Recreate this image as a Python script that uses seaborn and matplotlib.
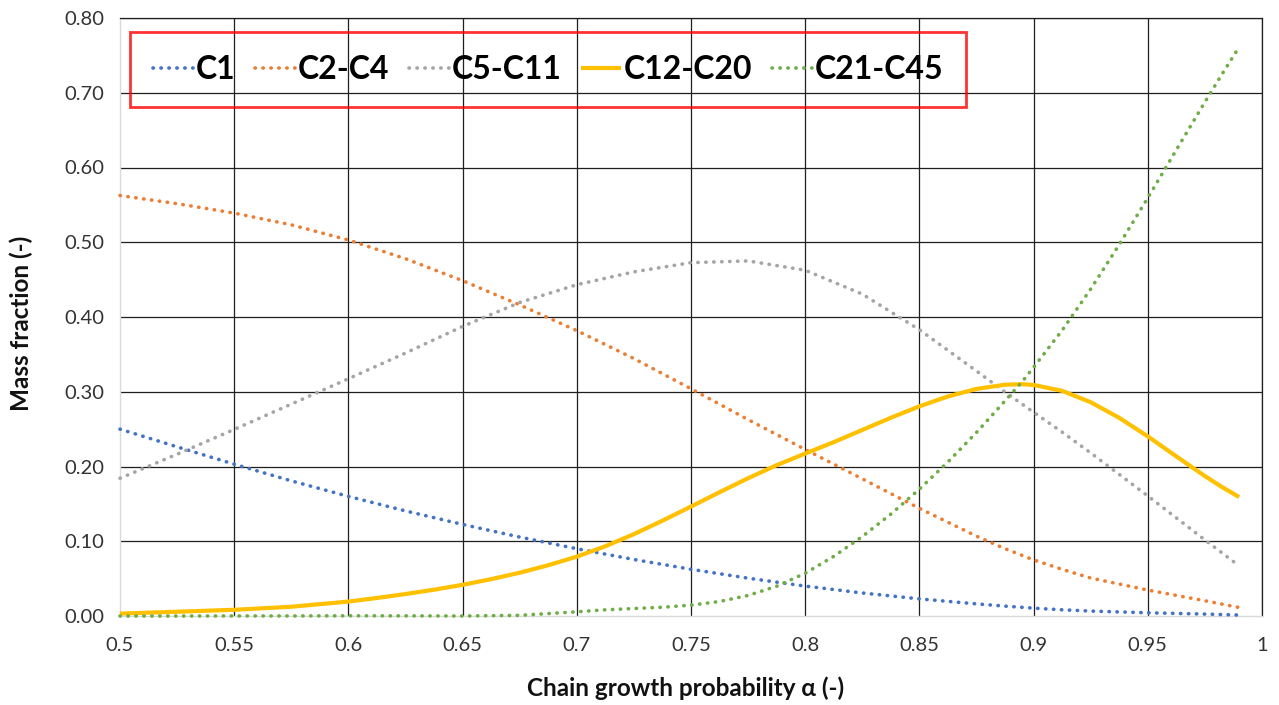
import matplotlib
matplotlib.use("Agg")
import matplotlib.pyplot as plt
import pandas as pd
import seaborn as sns

# Chain growth probability (x) and mass fraction of each carbon-number cut
alpha = [0.5, 0.525, 0.55, 0.575, 0.6, 0.625, 0.65, 0.675, 0.7, 0.725, 0.75, 0.775,
         0.8, 0.825, 0.85, 0.875, 0.8875, 0.9, 0.9125, 0.925, 0.95, 0.975, 0.99]

c1 = [0.2500, 0.2263, 0.2031, 0.1808, 0.1600, 0.1406, 0.1225, 0.1056, 0.0900, 0.0756,
      0.0625, 0.0506, 0.0400, 0.0308, 0.0229, 0.0162, 0.0132, 0.0105, 0.0083, 0.0066,
      0.0043, 0.0026, 0.0013]
c2_c4 = [0.5625, 0.5516, 0.5390, 0.5233, 0.5030, 0.4780, 0.4486, 0.4162, 0.3818, 0.3444,
         0.3040, 0.2627, 0.2228, 0.1835, 0.1440, 0.1068, 0.0900, 0.0751, 0.0624, 0.0508,
         0.0347, 0.0204, 0.0114]
c5_c11 = [0.1843, 0.2164, 0.2496, 0.2835, 0.3174, 0.3518, 0.3874, 0.4194, 0.4432, 0.4604,
          0.4727, 0.4750, 0.4626, 0.4306, 0.3830, 0.3277, 0.2996, 0.2726, 0.2460, 0.2182,
          0.1606, 0.1018, 0.0670]

# The two heavier cuts are read on a finer alpha grid where they bend sharply
alpha_c12_c20 = [0.5, 0.525, 0.55, 0.575, 0.6, 0.6125, 0.625, 0.6375, 0.65, 0.6625,
                 0.675, 0.6875, 0.7, 0.7125, 0.725, 0.7375, 0.75, 0.7625, 0.775, 0.7875,
                 0.8, 0.8125, 0.825, 0.8375, 0.85, 0.8625, 0.875, 0.8875, 0.895, 0.9,
                 0.9125, 0.925, 0.9375, 0.95, 0.9625, 0.975, 0.9825, 0.99]
c12_c20 = [0.0032, 0.0057, 0.0083, 0.0124, 0.0193, 0.0241, 0.0294, 0.0352, 0.0417, 0.0493,
           0.0579, 0.0679, 0.0794, 0.0933, 0.1095, 0.1275, 0.1464, 0.1656, 0.1843, 0.2018,
           0.2173, 0.2326, 0.2489, 0.2652, 0.2805, 0.2937, 0.3038, 0.3094, 0.3101, 0.3091,
           0.3012, 0.2860, 0.2651, 0.2403, 0.2135, 0.1872, 0.1725, 0.1591]

alpha_c21_c45 = [0.5, 0.525, 0.55, 0.575, 0.6, 0.625, 0.65, 0.675, 0.7, 0.7125,
                 0.725, 0.7375, 0.75, 0.7625, 0.775, 0.7875, 0.8, 0.8125, 0.825, 0.8375,
                 0.85, 0.8625, 0.875, 0.8875, 0.895, 0.9, 0.9125, 0.925, 0.9375, 0.95,
                 0.9625, 0.975, 0.9825, 0.99]
c21_c45 = [0.0000, 0.0000, 0.0001, 0.0001, 0.0003, 0.0002, 0.0000, 0.0009, 0.0056, 0.0083,
           0.0100, 0.0117, 0.0145, 0.0194, 0.0275, 0.0398, 0.0572, 0.0798, 0.1063, 0.1363,
           0.1697, 0.2061, 0.2456, 0.2878, 0.3135, 0.3327, 0.3822, 0.4374, 0.4969, 0.5594,
           0.6236, 0.6875, 0.7249, 0.7612]

series_names = ["C1", "C2-C4", "C5-C11", "C12-C20", "C21-C45"]
series_x = [alpha, alpha, alpha, alpha_c12_c20, alpha_c21_c45]
series_values = [c1, c2_c4, c5_c11, c12_c20, c21_c45]
series_colors = ["#4472C4", "#ED7D31", "#A5A5A5", "#FFC000", "#70AD47"]
series_solid = [False, False, False, True, False]

x_ticks = [0.5, 0.55, 0.6, 0.65, 0.7, 0.75, 0.8, 0.85, 0.9, 0.95, 1.0]
x_tick_labels = ["0.5", "0.55", "0.6", "0.65", "0.7", "0.75", "0.8", "0.85", "0.9", "0.95", "1"]
y_ticks = [0.0, 0.1, 0.2, 0.3, 0.4, 0.5, 0.6, 0.7, 0.8]
y_tick_labels = ["0.00", "0.10", "0.20", "0.30", "0.40", "0.50", "0.60", "0.70", "0.80"]

sns.set_theme(style="white")
plt.rcParams["font.family"] = ["Lato", "DejaVu Sans"]

W, H = 1279, 705
fig = plt.figure(figsize=(W / 100, H / 100), dpi=100)
ax = fig.add_axes([120 / W, (H - 616) / H, 1142 / W, 598 / H])

dot_style = (0, (0.1, 2.1))
for name, xs, vals, color, solid in zip(series_names, series_x, series_values,
                                         series_colors, series_solid):
    df = pd.DataFrame({"alpha": xs, "fraction": vals})
    if solid:
        sns.lineplot(data=df, x="alpha", y="fraction", ax=ax, color=color, lw=3.0,
                     solid_capstyle="butt", solid_joinstyle="round", label=name,
                     clip_on=False, zorder=3)
    else:
        sns.lineplot(data=df, x="alpha", y="fraction", ax=ax, color=color, lw=2.6,
                     linestyle=dot_style, dash_capstyle="round", label=name,
                     clip_on=False, zorder=3)

ax.set_xlim(0.5, 1.0)
ax.set_ylim(0.0, 0.8)
ax.set_xticks(x_ticks)
ax.set_xticklabels(x_tick_labels)
ax.set_yticks(y_ticks)
ax.set_yticklabels(y_tick_labels)
ax.tick_params(axis="both", length=0, labelsize=14.5, colors="#333333")
ax.tick_params(axis="x", pad=15)
ax.tick_params(axis="y", pad=11)

ax.set_axisbelow(True)
ax.grid(True, color="#1f1f1f", lw=0.9)
ax.xaxis.get_gridlines()[0].set_visible(False)
ax.yaxis.get_gridlines()[0].set_visible(False)
for side in ("left", "bottom"):
    ax.spines[side].set_color("#D9D9D9")
    ax.spines[side].set_linewidth(1.0)
for side in ("top", "right"):
    ax.spines[side].set_color("#1f1f1f")
    ax.spines[side].set_linewidth(0.9)

ax.set_xlabel("Chain growth probability α (-)", fontsize=17.5, fontweight="bold", color="#111111")
ax.set_ylabel("Mass fraction (-)", fontsize=17.5, fontweight="bold", color="#111111")
ax.xaxis.label.set_va("center")
ax.yaxis.label.set_va("center")
ax.xaxis.set_label_coords(0.495, -0.12)
ax.yaxis.set_label_coords(-0.086, 0.49)

handles, labels = ax.get_legend_handles_labels()
leg = ax.legend(handles, labels, loc="upper left", bbox_to_anchor=(0.0088, 0.9766),
                ncol=5, frameon=True, fancybox=False, borderpad=0.72,
                handlelength=1.25, handletextpad=0.1, columnspacing=0.6,
                borderaxespad=0.0, prop={"size": 23, "weight": "bold"})
frame = leg.get_frame()
frame.set_facecolor("none")
frame.set_edgecolor("#FF0000")
frame.set_linewidth(2.0)
for t in leg.get_texts():
    t.set_color("#000000")

fig.savefig("out.png", dpi=100, facecolor="white")
